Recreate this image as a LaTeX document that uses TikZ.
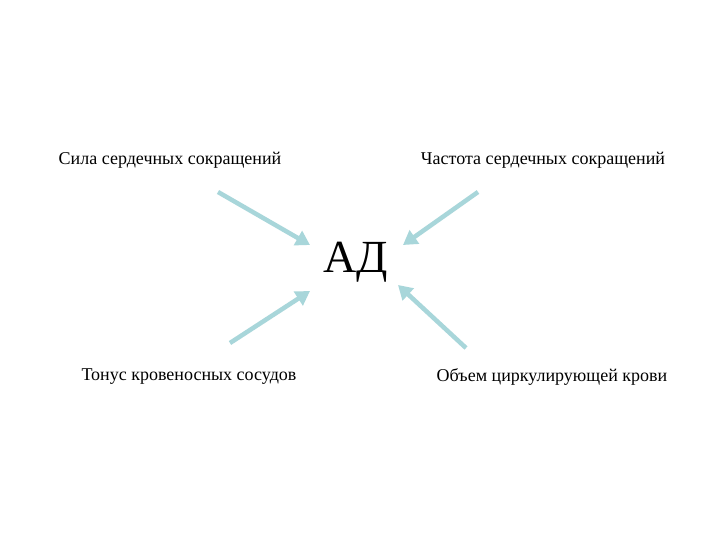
\documentclass[tikz,border=0pt]{standalone}
\usepackage{fontspec}
\setmainfont{Liberation Serif}
\usetikzlibrary{arrows.meta}
\begin{document}
\begin{tikzpicture}[x=1pt,y=-1pt,
  lbl/.style={font=\fontsize{18}{20}\selectfont},
  arr/.style={draw={rgb,255:red,168;green,214;blue,218},line width=4.5pt,-{Triangle[length=14pt,width=16pt]}}]
\useasboundingbox[fill=white] (0,0) rectangle (720,540);
\node[lbl] (a) at (170,160) {Сила сердечных сокращений};
\node[lbl] (b) at (543,160) {Частота сердечных сокращений};
\node[lbl] (c) at (189,377) {Тонус кровеносных сосудов};
\node[lbl] (d) at (552,377) {Объем циркулирующей крови};
\node[font=\fontsize{46}{50}\selectfont] (ad) at (356,262) {АД};
\coordinate (s1) at (218,192); \coordinate (e1) at (310,245);
\coordinate (s2) at (478,192); \coordinate (e2) at (403,245);
\coordinate (s3) at (230,343); \coordinate (e3) at (310,291);
\coordinate (s4) at (466,348); \coordinate (e4) at (398,285);
\draw[arr] (s1) -- (e1);
\draw[arr] (s2) -- (e2);
\draw[arr] (s3) -- (e3);
\draw[arr] (s4) -- (e4);
\end{tikzpicture}
\end{document}
